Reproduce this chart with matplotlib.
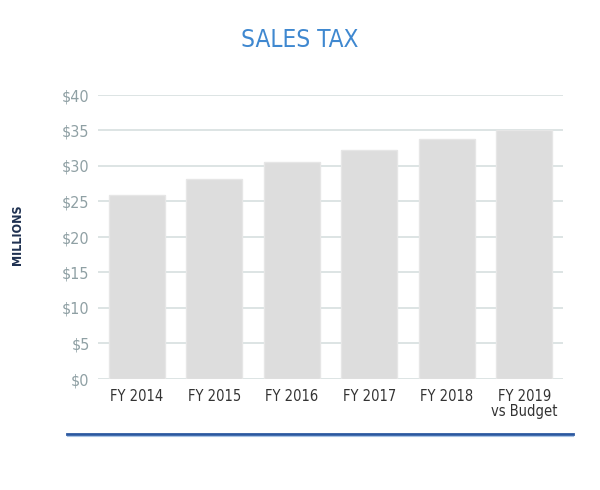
import matplotlib
matplotlib.use("Agg")
import matplotlib.pyplot as plt
from matplotlib import font_manager as fm

categories = ["FY 2014", "FY 2015", "FY 2016", "FY 2017", "FY 2018", "FY 2019\nvs Budget"]
values = [25.9, 28.2, 30.5, 32.2, 33.8, 35.1]
yticks = [0, 5, 10, 15, 20, 25, 30, 35, 40]
ytick_labels = ["$0", "$5", "$10", "$15", "$20", "$25", "$30", "$35", "$40"]

names = {f.name for f in fm.fontManager.ttflist}
fam = "Liberation Sans Narrow" if "Liberation Sans Narrow" in names else "DejaVu Sans"
plt.rcParams['font.family'] = [fam, 'DejaVu Sans']
plt.rcParams['font.stretch'] = 'condensed'

fig = plt.figure(figsize=(6, 4.9), dpi=100)
ax = fig.add_axes([98/600, 1-379/490, (563-98)/600, (379-95)/490])

x = list(range(len(categories)))
ax.bar(x, values, width=0.72, color="#dddddd", edgecolor="#e6e6e6", linewidth=1, zorder=3)
ax.set_xlim(-0.5, 5.5)
ax.set_ylim(0, 40)
ax.set_yticks(yticks)
ax.set_yticklabels(ytick_labels, color="#8fa0a4", fontsize=11.5, stretch='condensed')
ax.set_xticks(x)
ax.set_xticklabels(categories, color="#333333", fontsize=10.5, linespacing=1.0, stretch='condensed')
ax.tick_params(axis='both', length=0, pad=6)
ax.tick_params(axis='x', pad=7)
ax.grid(axis='y', color="#d3dcdc", linewidth=1.1, zorder=0)
for s in ax.spines.values():
    s.set_visible(False)

fig.text(300/600, 1-40/490, "SALES TAX", ha='center', va='center', color="#3f88d0", fontsize=17.5, stretch='condensed')
fig.text(18/600, 1-235/490, "MILLIONS", ha='center', va='center', rotation=90, color="#1e3050", fontsize=9, fontweight='bold', stretch='condensed')
fig.add_artist(plt.Line2D([67/600, 573/600], [1-434/490, 1-434/490], color="#2b58a0", linewidth=2))
fig.add_artist(plt.Line2D([67/600, 573/600], [1-436/490, 1-436/490], color="#a8c4e6", linewidth=0.8))

fig.savefig("out.png", dpi=100)
